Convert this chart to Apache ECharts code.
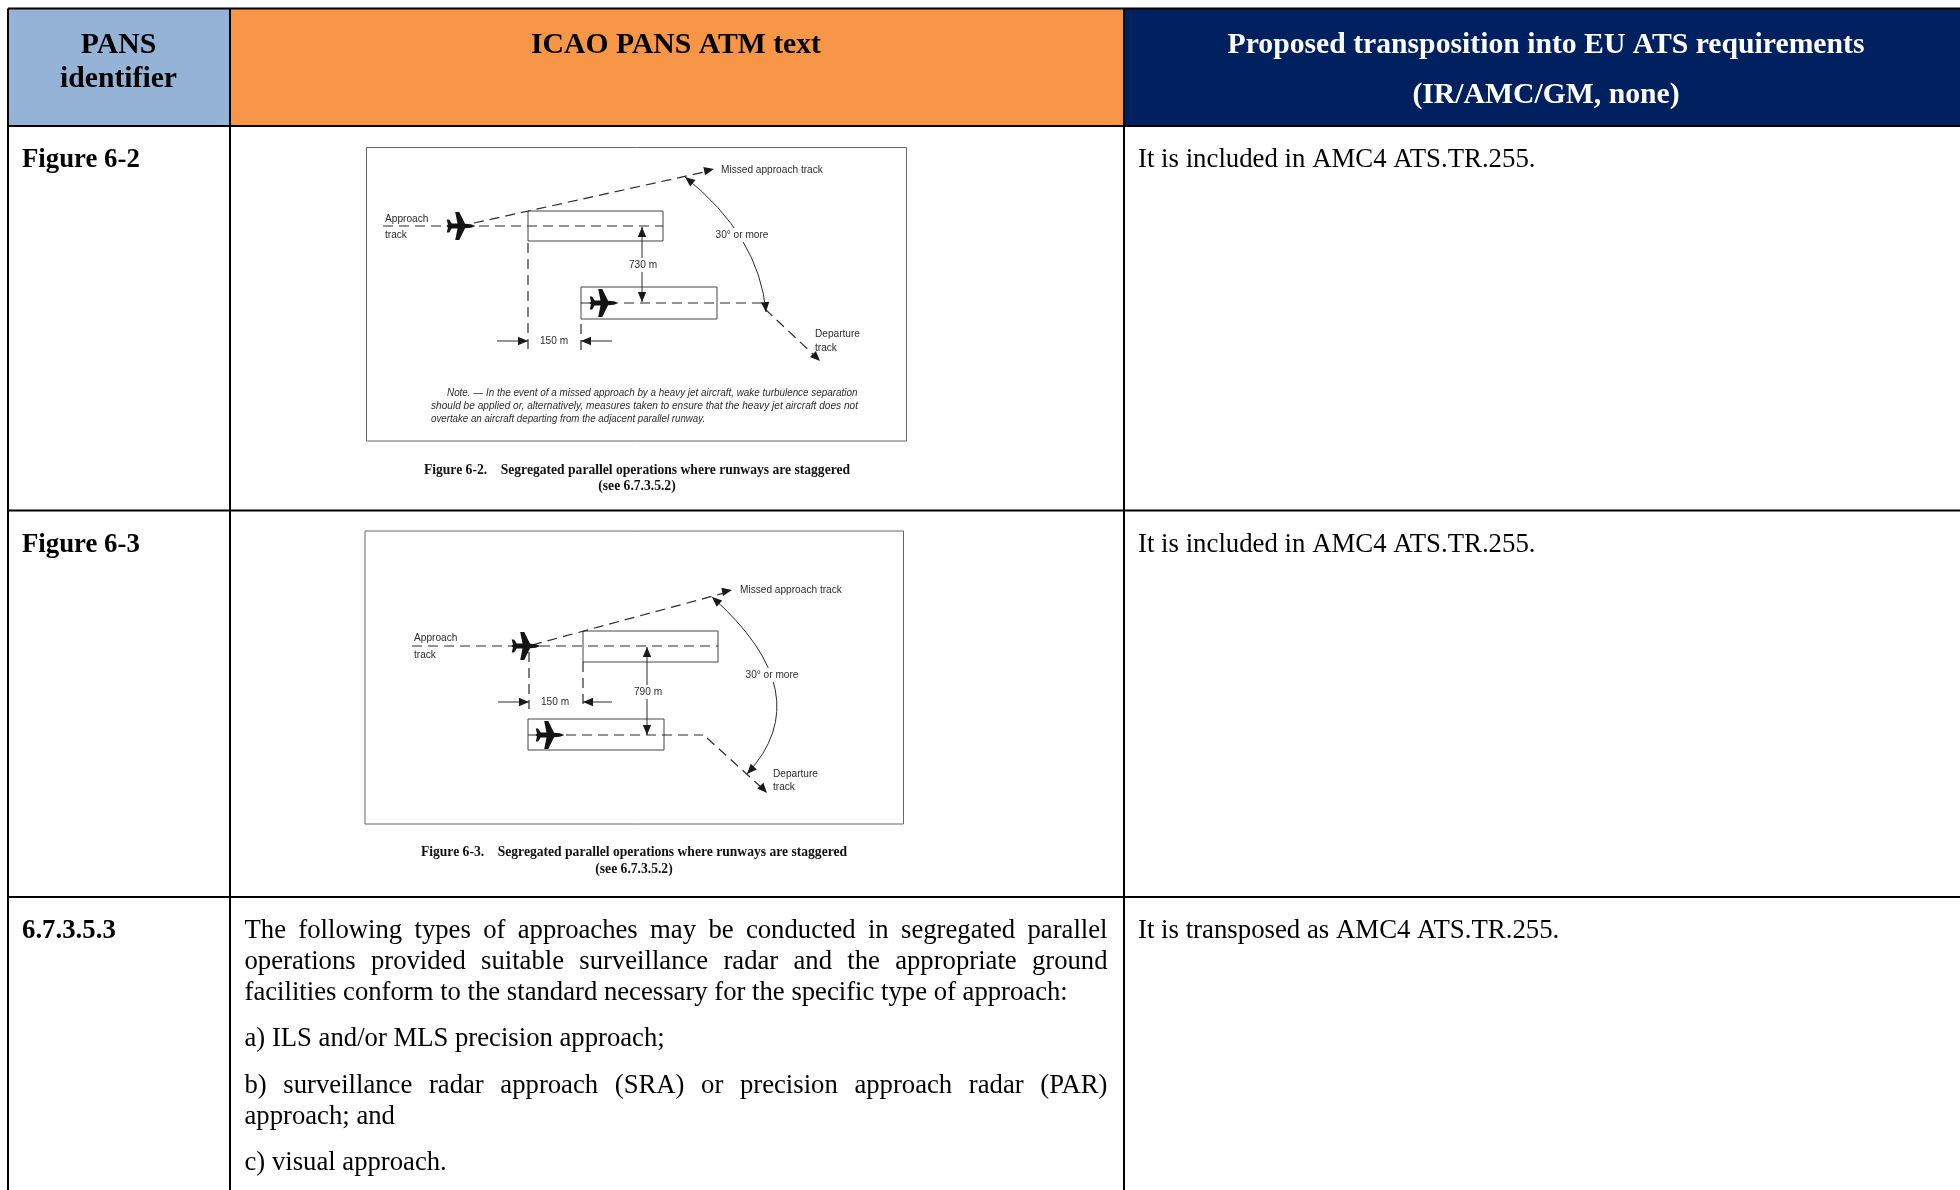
<!DOCTYPE html>
<html>
<head>
<meta charset="utf-8">
<title>PANS ATM transposition table</title>
<script src="https://cdn.jsdelivr.net/npm/echarts@6/dist/echarts.min.js"></script>
<style>
  html, body { margin: 0; padding: 0; background: #fff; }
  #main { width: 1960px; height: 1190px; }
</style>
</head>
<body>
<div id="main"></div>
<script>
// table skeleton, axis units are page pixels
const columnEdges = [8, 230, 1124, 1960]
const rowEdges = [8.5, 126, 510.5, 897, 1190]
const headerColors = ['#95B3D7', '#F79646', '#002060']

// [text, x, y]
const headerDark = [['PANS', 118.5, 45], ['identifier', 118.5, 79], ['ICAO PANS ATM text', 676, 45]]
const headerLight = [['Proposed transposition into EU ATS requirements', 1546, 45], ['(IR/AMC/GM, none)', 1546, 95]]
const rowIds = [['Figure 6-2', 22, 160], ['Figure 6-3', 22, 545.5], ['6.7.3.5.3', 22, 931]]
const rightCol = [
  ['It is included in AMC4 ATS.TR.255.', 1138, 160],
  ['It is included in AMC4 ATS.TR.255.', 1138, 545],
  ['It is transposed as AMC4 ATS.TR.255.', 1138, 931]
]
// [text, y, justified]
const bodyLines = [
  ['The following types of approaches may be conducted in segregated parallel', 931, true],
  ['operations provided suitable surveillance radar and the appropriate ground', 962, true],
  ['facilities conform to the standard necessary for the specific type of approach:', 993, false],
  ['a) ILS and/or MLS precision approach;', 1039, false],
  ['b) surveillance radar approach (SRA) or precision approach radar (PAR)', 1086, true],
  ['approach; and', 1117, false],
  ['c) visual approach.', 1163, false]
]
const bodyLeft = 244.5
const bodyRight = 1107.5

const figureLabels = [
  ['Missed approach track', 721, 170], ['Approach', 385, 218.5], ['track', 385, 234.5],
  ['Departure', 815, 334], ['track', 815, 347.5],
  ['Missed approach track', 740, 590], ['Approach', 414, 638], ['track', 414, 654.5],
  ['Departure', 773, 774], ['track', 773, 787]
]
const figureCentered = [
  ['150 m', 554, 340.5], ['730 m', 643, 265], ['30° or more', 742, 235],
  ['150 m', 555, 702], ['790 m', 648, 692], ['30° or more', 772, 675]
]
const figureNotes = [
  ['Note. — In the event of a missed approach by a heavy jet aircraft, wake turbulence separation', 447, 393],
  ['should be applied or, alternatively, measures taken to ensure that the heavy jet aircraft does not', 431, 406],
  ['overtake an aircraft departing from the adjacent parallel runway.', 431, 419.5]
]
const captions = [
  ['Figure 6-2.    Segregated parallel operations where runways are staggered', 637, 470],
  ['(see 6.7.3.5.2)', 637, 486],
  ['Figure 6-3.    Segregated parallel operations where runways are staggered', 634, 852],
  ['(see 6.7.3.5.2)', 634, 869]
]

// [left, top, right, bottom]
const figureFrames = [[366.5, 147.5, 906.5, 441], [365, 531, 903.5, 824]]
const runways = [
  [528, 211, 663, 241], [581, 287, 717, 319],
  [583, 631, 718, 662], [528, 719, 664, 750]
]
// [x0, y0, x1, y1]
const dashedTracks = [
  [383, 226, 663, 226], [528, 243, 528, 351], [581, 324, 581, 351], [624, 303, 762, 303], [765, 309, 815, 356],
  [412, 646, 718, 646], [529, 652, 529, 709], [583, 662, 583, 708], [566, 735, 703, 735], [707, 738, 762, 788],
  [474, 223, 709, 171], [532, 645, 728, 592]
]
const runwayStubs = [[581, 303, 600, 303], [528, 735, 545, 735]]
// arrows with the head at the far end
const trackHeads = [[700, 172, 714, 169], [810, 351, 820, 361], [722, 592, 732, 590], [758, 783, 767, 793]]
const dimensionArrows = [
  [497, 341, 528, 341], [612, 341, 581, 341],
  [498, 702, 529, 702], [612, 702, 583, 702]
]
// two headed spacing arrows
const spacingArrows = [[642, 227, 642, 302], [647, 647, 647, 735]]
// quadratic arcs [x0, y0, cx, cy, x1, y1]
const angleArcs = [
  [685, 177, 759, 236, 766, 312],
  [712, 597, 821, 694, 747, 774]
]
// aircraft centres
const aircraft = [[461, 226], [604, 303], [526, 646], [550, 735]]
const planePath = 'path://M100,50 L84,44 L64,42 L44,0 L30,0 L38,41 L18,41 L9,27 L1,27 L5,45 L0,50 L5,55 L1,73 L9,73 L18,59 L38,59 L30,100 L44,100 L64,58 L84,56 Z'

const SERIF = '"Liberation Serif", "Times New Roman", serif'
const SANS = '"Liberation Sans", Arial, sans-serif'
const LINE_COLOR = '#2b2b2b'

const measureCtx = document.createElement('canvas').getContext('2d')
const bodyFont = `26.7px ${SERIF}`

// split a justified line into words so the gaps stretch to the column width
function layoutBody () {
  const out = []
  measureCtx.font = bodyFont
  bodyLines.forEach(([text, y, justified]) => {
    if (!justified) {
      out.push([text, bodyLeft, y])
      return
    }
    const words = text.split(' ')
    const used = words.reduce((s, w) => s + measureCtx.measureText(w).width, 0)
    const gap = (bodyRight - bodyLeft - used) / (words.length - 1)
    let x = bodyLeft
    words.forEach(w => {
      out.push([w, x, y])
      x += measureCtx.measureText(w).width + gap
    })
  })
  return out
}

// squeeze is one horizontal factor or one per item
function textSeries (items, font, fill, align, squeeze) {
  return {
    type: 'custom',
    coordinateSystem: 'cartesian2d',
    silent: true,
    data: items.map(d => [d[1], d[2]]),
    renderItem (params, api) {
      const p = api.coord([api.value(0), api.value(1)])
      const sx = Array.isArray(squeeze) ? squeeze[params.dataIndex] : (squeeze || 1)
      return {
        type: 'text',
        x: p[0],
        y: p[1],
        scaleX: sx,
        style: { x: 0, y: 0, text: items[params.dataIndex][0], font, fill, align, verticalAlign: 'middle' }
      }
    }
  }
}

function lineShape (api, d, style) {
  const a = api.coord([d[0], d[1]])
  const b = api.coord([d[2], d[3]])
  return { type: 'line', shape: { x1: a[0], y1: a[1], x2: b[0], y2: b[1] }, style }
}

function headShape (tip, from, size) {
  const ang = Math.atan2(tip[1] - from[1], tip[0] - from[0])
  const l = size
  const w = size * 0.42
  const bx = tip[0] - Math.cos(ang) * l
  const by = tip[1] - Math.sin(ang) * l
  return {
    type: 'polygon',
    shape: {
      points: [tip,
        [bx - Math.sin(ang) * w, by + Math.cos(ang) * w],
        [bx + Math.sin(ang) * w, by - Math.cos(ang) * w]]
    },
    style: { fill: '#1a1a1a' }
  }
}

function segmentSeries (items, style, heads) {
  return {
    type: 'custom',
    coordinateSystem: 'cartesian2d',
    silent: true,
    data: items,
    renderItem (params, api) {
      const d = [0, 1, 2, 3].map(i => api.value(i))
      const a = api.coord([d[0], d[1]])
      const b = api.coord([d[2], d[3]])
      const children = []
      if (style) children.push(lineShape(api, d, style))
      if (heads >= 1) children.push(headShape(b, a, 10))
      if (heads === 2) children.push(headShape(a, b, 10))
      return { type: 'group', children }
    }
  }
}

function rectSeries (items, style) {
  return {
    type: 'custom',
    coordinateSystem: 'cartesian2d',
    silent: true,
    data: items,
    renderItem (params, api) {
      const a = api.coord([api.value(0), api.value(1)])
      const b = api.coord([api.value(2), api.value(3)])
      return { type: 'rect', shape: { x: a[0], y: a[1], width: b[0] - a[0], height: b[1] - a[1] }, style }
    }
  }
}

const tableRules = [
  ...columnEdges.slice(0, 3).map(x => [x, rowEdges[0], x, rowEdges[4]]),
  ...rowEdges.slice(0, 4).map(y => [columnEdges[0], y, columnEdges[3], y])
]
const headerCells = headerColors.map((c, i) => [columnEdges[i], rowEdges[0], columnEdges[i + 1], rowEdges[1]])

const chart = echarts.init(document.getElementById('main'))
chart.setOption({
  animation: false,
  grid: { left: 0, right: 0, top: 0, bottom: 0 },
  xAxis: { type: 'value', min: 0, max: 1960, show: false },
  yAxis: { type: 'value', min: 0, max: 1190, inverse: true, show: false },
  series: [
    {
      type: 'custom',
      coordinateSystem: 'cartesian2d',
      silent: true,
      data: headerCells,
      renderItem (params, api) {
        const a = api.coord([api.value(0), api.value(1)])
        const b = api.coord([api.value(2), api.value(3)])
        return {
          type: 'rect',
          shape: { x: a[0], y: a[1], width: b[0] - a[0], height: b[1] - a[1] },
          style: { fill: headerColors[params.dataIndex] }
        }
      }
    },
    segmentSeries(tableRules, { stroke: '#000', lineWidth: 2 }, 0),
    rectSeries(figureFrames, { fill: 'none', stroke: '#666', lineWidth: 1 }),
    rectSeries(runways, { fill: 'none', stroke: '#444', lineWidth: 1 }),
    segmentSeries(dashedTracks, { stroke: LINE_COLOR, lineWidth: 1.2, lineDash: [10, 6] }, 0),
    segmentSeries(runwayStubs, { stroke: LINE_COLOR, lineWidth: 1 }, 0),
    segmentSeries(trackHeads, null, 1),
    segmentSeries(dimensionArrows, { stroke: LINE_COLOR, lineWidth: 1 }, 1),
    segmentSeries(spacingArrows, { stroke: LINE_COLOR, lineWidth: 1 }, 2),
    {
      type: 'custom',
      coordinateSystem: 'cartesian2d',
      silent: true,
      data: angleArcs,
      renderItem (params, api) {
        const a = api.coord([api.value(0), api.value(1)])
        const c = api.coord([api.value(2), api.value(3)])
        const b = api.coord([api.value(4), api.value(5)])
        return {
          type: 'group',
          children: [
            {
              type: 'bezierCurve',
              shape: { x1: a[0], y1: a[1], cpx1: c[0], cpy1: c[1], x2: b[0], y2: b[1] },
              style: { fill: 'none', stroke: LINE_COLOR, lineWidth: 1 }
            },
            headShape(a, c, 10),
            headShape(b, c, 10)
          ]
        }
      }
    },
    {
      type: 'scatter',
      silent: true,
      symbol: planePath,
      symbolSize: [29, 28],
      itemStyle: { color: '#141414', opacity: 1 },
      data: aircraft
    },
    {
      // white plates behind the labels sitting on lines
      type: 'custom',
      coordinateSystem: 'cartesian2d',
      silent: true,
      data: figureCentered.map(d => [d[1], d[2]]),
      renderItem (params, api) {
        const p = api.coord([api.value(0), api.value(1)])
        const w = figureCentered[params.dataIndex][0].length * 5 + 4
        return { type: 'rect', shape: { x: p[0] - w / 2, y: p[1] - 7, width: w, height: 14 }, style: { fill: '#fff' } }
      }
    },
    textSeries(headerDark, `bold 29.7px ${SERIF}`, '#000', 'center'),
    textSeries(headerLight, `bold 29.7px ${SERIF}`, '#fff', 'center'),
    textSeries(rowIds, `bold 26.8px ${SERIF}`, '#000', 'left'),
    textSeries(rightCol, `26.8px ${SERIF}`, '#000', 'left'),
    textSeries(layoutBody(), bodyFont, '#000', 'left'),
    textSeries(figureLabels, `11px ${SANS}`, '#2b2b2b', 'left', 0.92),
    textSeries(figureCentered, `11px ${SANS}`, '#2b2b2b', 'center', 0.92),
    textSeries(figureNotes, `italic 10.5px ${SANS}`, '#2b2b2b', 'left', [0.94, 0.963, 0.925]),
    textSeries(captions, `bold 13.6px ${SERIF}`, '#111', 'center')
  ]
})
</script>
</body>
</html>
